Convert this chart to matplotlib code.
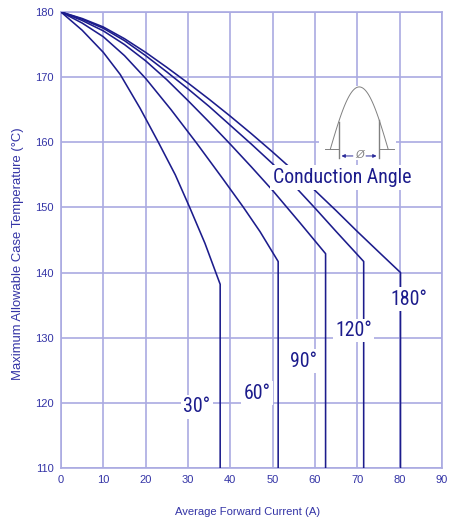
import matplotlib
matplotlib.use('Agg')
import matplotlib.pyplot as plt
import numpy as np
from matplotlib import font_manager

names = {f.name for f in font_manager.fontManager.ttflist}
NARROW, NSTRETCH = 'DejaVu Sans', 'condensed'
for cand in ['Liberation Sans Narrow', 'Arial Narrow', 'Roboto Condensed', 'Open Sans Condensed']:
    if cand in names:
        NARROW, NSTRETCH = cand, 'normal'
        break
REG = 'Liberation Sans' if 'Liberation Sans' in names else 'DejaVu Sans'

# ---- data ----
I30 = [0, 5, 10, 14, 18.7, 23, 27, 30.4, 34, 37.6, 37.6]
T30 = [180, 177.2, 173.8, 170.4, 165.2, 160, 155, 150, 144.5, 138.2, 110]

I60 = [0, 5, 10, 15, 20, 26, 32, 38, 43, 47, 51.3, 51.3]
T60 = [180, 178.3, 176.2, 173.3, 169.8, 165, 159.9, 154.6, 150.1, 146.3, 141.7, 110]

I90 = [0, 5, 10, 15, 20, 25, 30, 35, 40, 45, 50, 56.5, 62.5, 62.5]
T90 = [180, 178.7, 177.1, 175.0, 172.5, 169.6, 166.4, 163.1, 159.7, 156.2, 152.6, 147.6, 142.9, 110]

I120 = [0, 5, 10, 15, 20, 25, 30, 35, 40, 45, 50, 55, 60, 65, 71.5, 71.5]
T120 = [180, 178.9, 177.5, 175.6, 173.3, 170.8, 168.2, 165.5, 162.6, 159.7, 156.7, 153.4,
        149.9, 146.3, 141.7, 110]

I180 = [0, 5, 10, 15, 20, 25, 30, 35, 40, 45, 50, 55, 60, 65, 70, 75, 80.2, 80.2]
T180 = [180, 179.0, 177.7, 175.9, 173.8, 171.5, 169.1, 166.6, 164.0, 161.3, 158.5, 155.6,
        152.6, 149.5, 146.3, 143.2, 140, 110]

series = [(I30, T30), (I60, T60), (I90, T90), (I120, T120), (I180, T180)]
angle_labels = ['30°', '60°', '90°', '120°', '180°']
label_x = [32.1, 46.3, 57.4, 69.1, 82.1]
label_y = [119.4, 121.5, 126.4, 131.1, 135.9]

xticks = list(range(0, 91, 10))
yticks = list(range(110, 181, 10))

LINE = '#1c1c8c'
GRID = '#aaaae2'
TXT = '#3434a6'

fig = plt.figure(figsize=(4.49, 5.22), dpi=100, facecolor='white')
ax = fig.add_axes([61/449, 1-468/522, (442-61)/449, (468-12)/522])
ax.set_xlim(0, 90)
ax.set_ylim(110, 180)
ax.set_xticks(xticks)
ax.set_yticks(yticks)
ax.grid(True, color=GRID, linewidth=1.2, zorder=0)
ax.set_axisbelow(True)
for s in ax.spines.values():
    s.set_color(GRID)
    s.set_linewidth(1.2)
ax.tick_params(length=0, labelcolor=TXT, labelsize=8)
ax.tick_params(axis='x', pad=5)
ax.tick_params(axis='y', pad=5)
for lab in ax.get_xticklabels() + ax.get_yticklabels():
    lab.set_family(REG)

for (xs, ys) in series:
    ax.plot(xs, ys, color=LINE, linewidth=1.15, zorder=3)

deg_texts = []
for t, x, y in zip(angle_labels, label_x, label_y):
    deg_texts.append(ax.text(x, y, t, ha='center', va='center', fontsize=16, color=LINE,
            family=NARROW, fontstretch=NSTRETCH, zorder=5,
            bbox=dict(boxstyle='square,pad=0.12', facecolor='white', edgecolor='none')))

ca = ax.text(66.5, 154.6, 'Conduction Angle', ha='center', va='center', fontsize=15.5,
        color=LINE, family=NARROW, fontstretch=NSTRETCH, zorder=5,
        bbox=dict(boxstyle='square,pad=0.15', facecolor='white', edgecolor='none'))

# inset conduction-angle diagram
ax.add_patch(plt.Rectangle((61, 157.3), 18.2, 11.4, facecolor='white', edgecolor='none', zorder=2))
GR = '#808080'
xa = np.linspace(63.6, 77.3, 80)
ya = 158.9 + 9.6*np.sin(np.pi*(xa-63.6)/13.7)
ax.plot(xa, ya, color=GR, linewidth=0.7, zorder=4)
for xv in (65.6, 75.2):
    yv = 158.9 + 9.6*np.sin(np.pi*(xv-63.6)/13.7)
    ax.plot([xv, xv], [157.6, yv], color=GR, linewidth=1.0, zorder=4)
ax.plot([62.4, 65.6], [158.9, 158.9], color=GR, linewidth=0.7, zorder=4)
ax.plot([75.2, 78.6], [158.9, 158.9], color=GR, linewidth=0.7, zorder=4)
ax.annotate('', xy=(65.6, 157.9), xytext=(69.6, 157.9),
            arrowprops=dict(arrowstyle='-|>', color='#2a2a9a', lw=0.7, mutation_scale=5), zorder=4)
ax.annotate('', xy=(75.2, 157.9), xytext=(71.4, 157.9),
            arrowprops=dict(arrowstyle='-|>', color='#2a2a9a', lw=0.7, mutation_scale=5), zorder=4)
ax.text(70.5, 158.1, 'Ø', ha='center', va='center', fontsize=8, color=GR,
        family=REG, style='italic', zorder=4)

fig.text(18/449, 1-254/522, 'Maximum Allowable Case Temperature (°C)', rotation=90,
         ha='center', va='center', fontsize=9.4, color=TXT, family=REG)
fig.text(248/449, 1-512/522, 'Average Forward Current (A)', ha='center', va='center',
         fontsize=8.1, color=TXT, family=REG)

# fit the curve-label font sizes to the widths seen in the reference
fig.canvas.draw()
r = fig.canvas.get_renderer()
w180 = deg_texts[-1].get_window_extent(r).width
fs = 16 * 36.7 / w180
for t in deg_texts:
    t.set_fontsize(fs)
wca = ca.get_window_extent(r).width
ca.set_fontsize(15.5 * 138.0 / wca)

fig.savefig('out.png', dpi=100, facecolor='white')
